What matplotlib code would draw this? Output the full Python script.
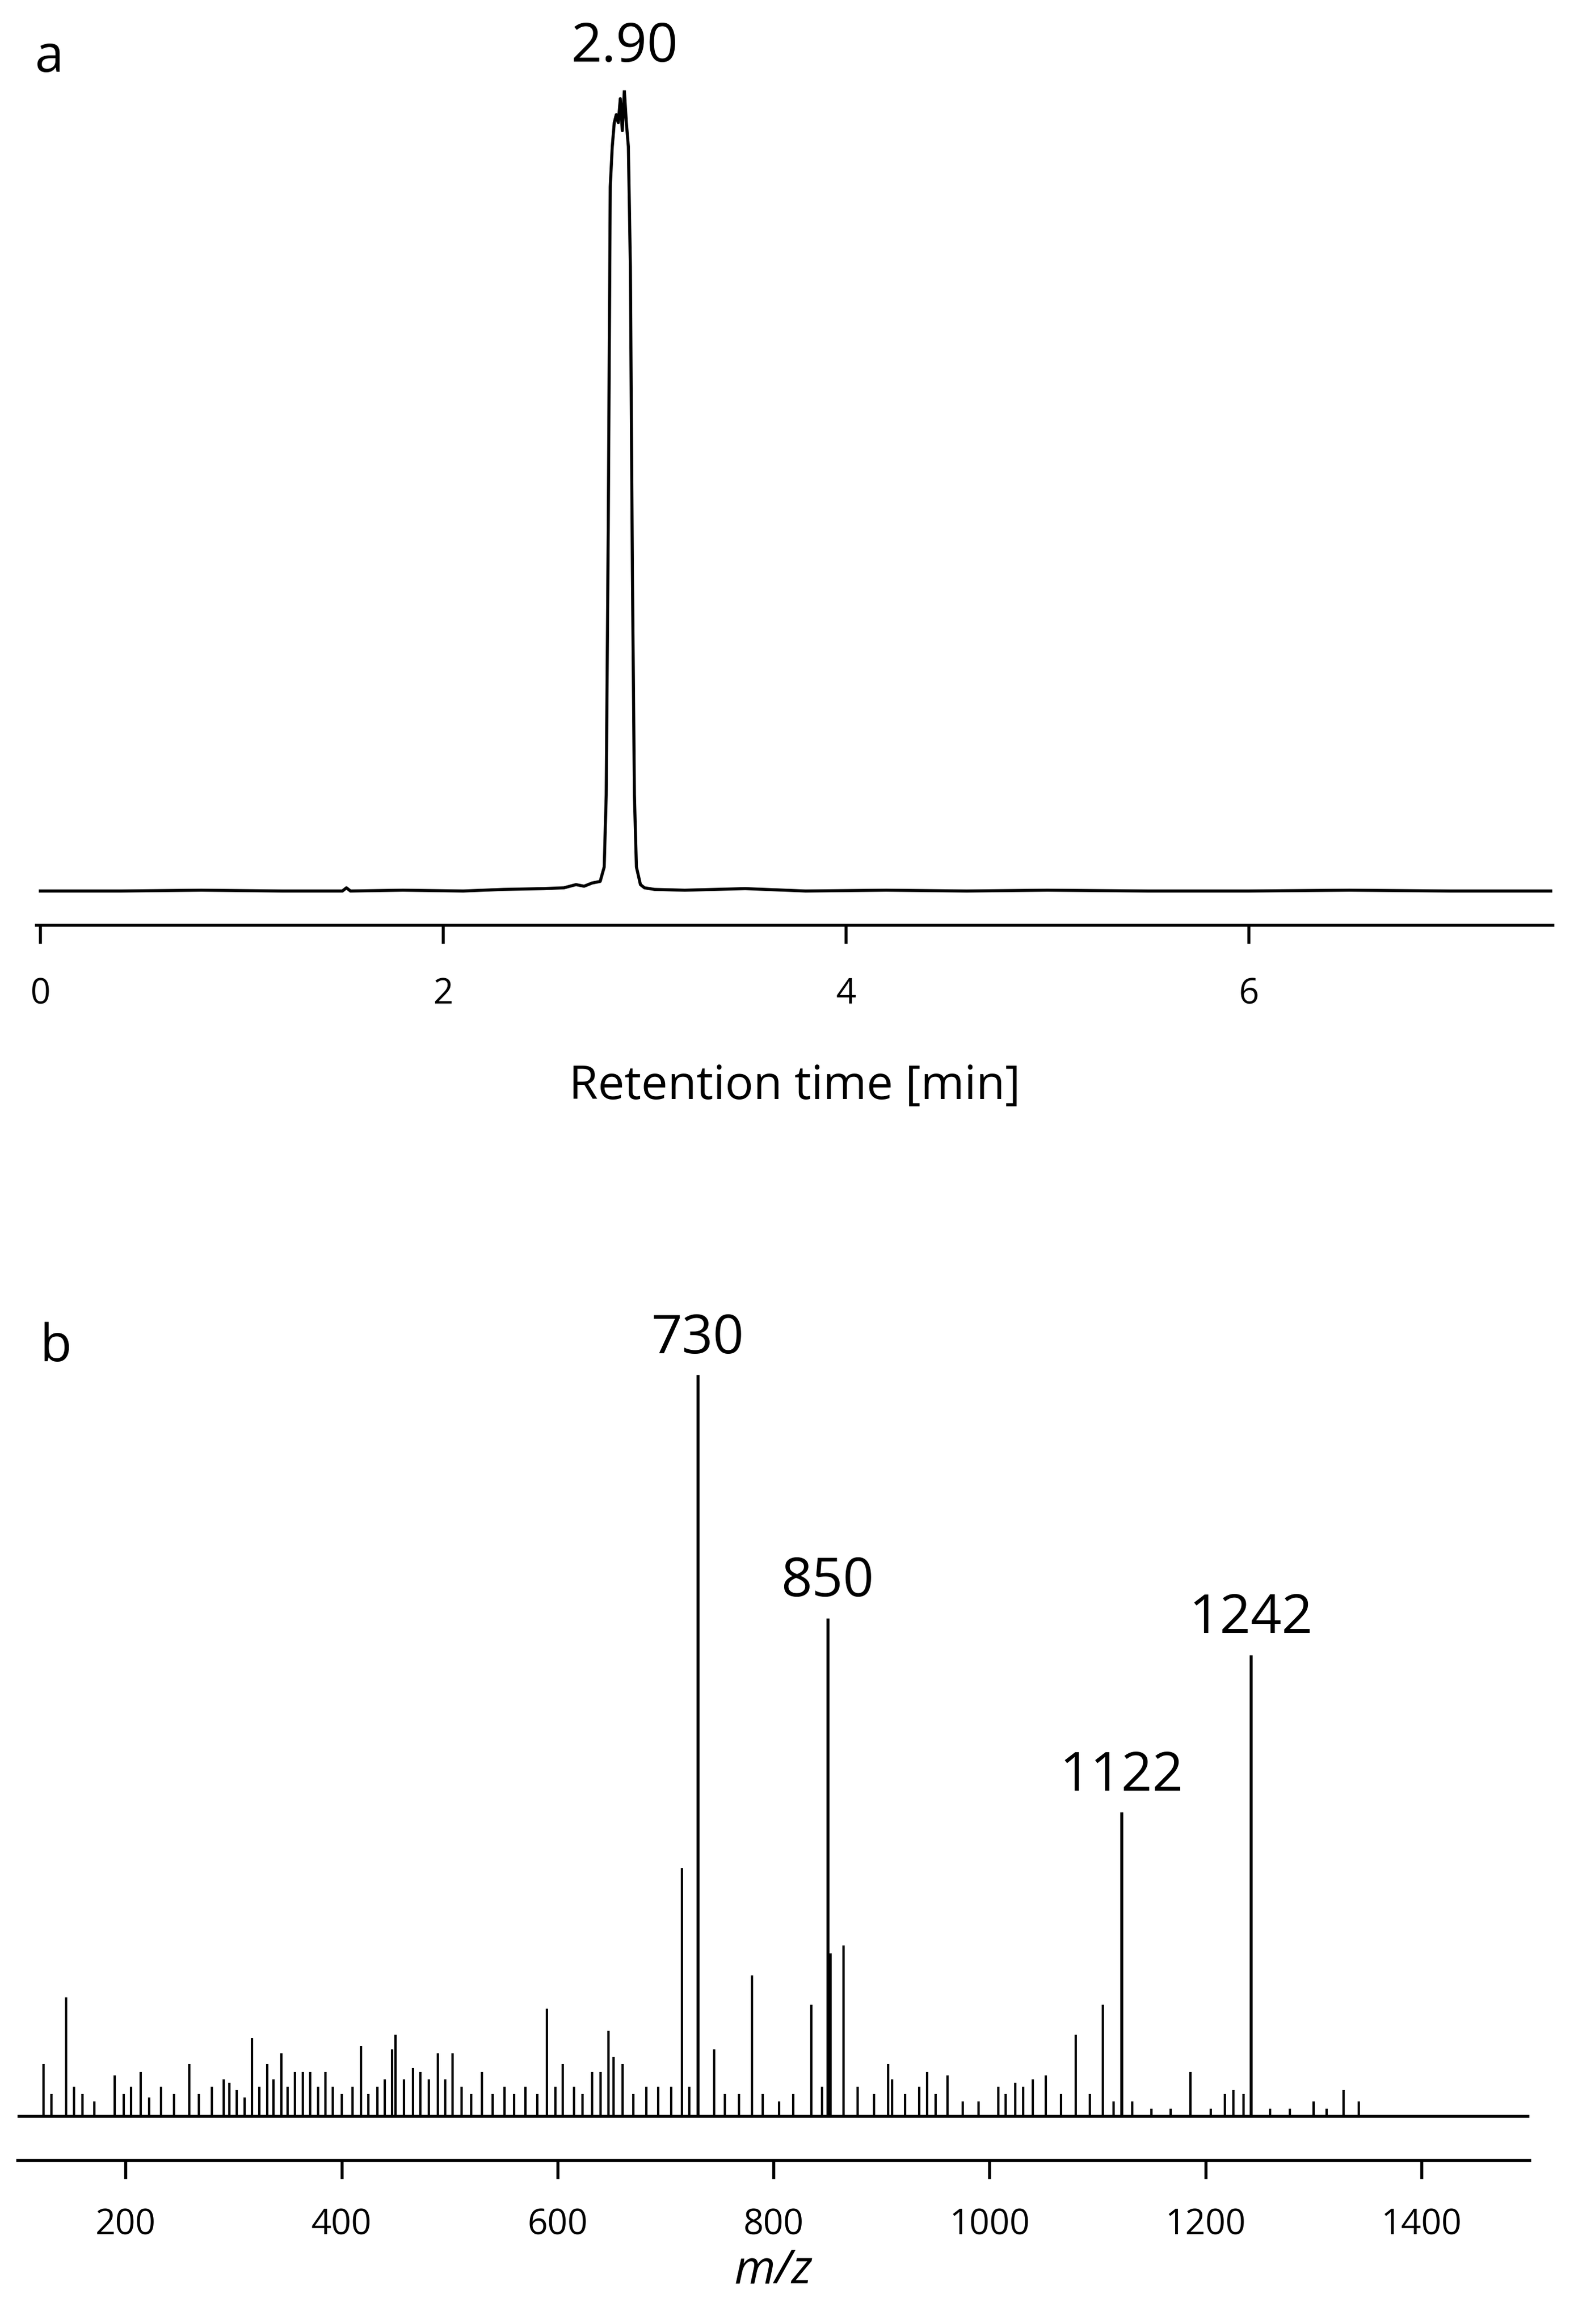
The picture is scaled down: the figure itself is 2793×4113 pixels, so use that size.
import matplotlib.pyplot as plt
import numpy as np

plt.rcParams['font.family'] = ['Open Sans', 'DejaVu Sans']

# chromatogram (retention time [min], relative intensity)
rt = [0.0, 0.4, 0.8, 1.2, 1.5, 1.52, 1.54, 1.8, 2.1, 2.3, 2.5, 2.6, 2.66, 2.70, 2.74,
      2.78, 2.80, 2.81, 2.82, 2.83, 2.84, 2.85, 2.86, 2.87, 2.88, 2.89, 2.90, 2.91,
      2.92, 2.93, 2.94, 2.95, 2.96, 2.98, 3.00, 3.05, 3.2, 3.5, 3.8, 4.2, 4.6, 5.0,
      5.5, 6.0, 6.5, 7.0, 7.5]
inten = [0.0, 0.0, 0.001, 0.0, 0.0, 0.004, 0.0, 0.001, 0.0, 0.002, 0.003, 0.004, 0.008,
         0.006, 0.010, 0.012, 0.03, 0.12, 0.45, 0.88, 0.93, 0.96, 0.97, 0.96, 0.99,
         0.95, 1.0, 0.96, 0.93, 0.78, 0.40, 0.12, 0.03, 0.008, 0.004, 0.002, 0.001,
         0.003, 0.0, 0.001, 0.0, 0.001, 0.0, 0.0, 0.001, 0.0, 0.0]

# mass spectrum: labelled peaks and the rest
mz_main = [730, 850, 1122, 1242]
h_main = [1.0, 0.672, 0.41, 0.622]
mz_minor = [124, 131, 145, 152, 160, 171, 190, 198, 205, 214, 222, 233, 245, 259, 268,
            280, 291, 296, 303, 310, 317, 324, 331, 337, 344, 350, 357, 364, 371, 378,
            385, 392, 400, 410, 418, 425, 433, 440, 447, 450, 458, 466, 473, 481, 489,
            496, 503, 511, 520, 530, 540, 551, 560, 570, 581, 590, 598, 605, 615, 623,
            632, 640, 647, 652, 660, 670, 682, 693, 705, 715, 722, 745, 755, 768, 780,
            790, 805, 818, 835, 845, 853, 865, 878, 893, 906, 910, 922, 935, 942, 950,
            961, 975, 990, 1008, 1015, 1024, 1031, 1040, 1052, 1066, 1080, 1093, 1105,
            1115, 1132, 1150, 1168, 1186, 1205, 1218, 1226, 1235, 1260, 1278, 1300,
            1312, 1328, 1342]
h_minor = [0.07, 0.03, 0.16, 0.04, 0.03, 0.02, 0.055, 0.03, 0.04, 0.06, 0.025, 0.04,
           0.03, 0.07, 0.03, 0.04, 0.05, 0.045, 0.035, 0.025, 0.105, 0.04, 0.07, 0.05,
           0.085, 0.04, 0.06, 0.06, 0.06, 0.04, 0.06, 0.04, 0.03, 0.04, 0.095, 0.03,
           0.04, 0.05, 0.09, 0.11, 0.05, 0.065, 0.06, 0.05, 0.085, 0.05, 0.085, 0.04,
           0.03, 0.06, 0.03, 0.04, 0.03, 0.04, 0.03, 0.145, 0.04, 0.07, 0.04, 0.03,
           0.06, 0.06, 0.115, 0.08, 0.07, 0.03, 0.04, 0.04, 0.04, 0.335, 0.04, 0.09,
           0.03, 0.03, 0.19, 0.03, 0.02, 0.03, 0.15, 0.04, 0.22, 0.23, 0.04, 0.03,
           0.07, 0.05, 0.03, 0.04, 0.06, 0.03, 0.055, 0.02, 0.02, 0.04, 0.03, 0.045,
           0.04, 0.05, 0.055, 0.03, 0.11, 0.03, 0.15, 0.02, 0.02, 0.01, 0.01, 0.06,
           0.01, 0.03, 0.035, 0.03, 0.01, 0.01, 0.02, 0.01, 0.035, 0.02]

fig = plt.figure(figsize=(2793 / 300, 4113 / 300), dpi=300)

# panel a
ax1 = fig.add_axes([0.023, 0.602, 0.961, 0.359])
ax1.plot(rt, inten, color='black', lw=1.3)
ax1.set_xlim(-0.02, 7.51)
ax1.set_ylim(-0.0424, 1.0)
for s in ['left', 'top', 'right']:
    ax1.spines[s].set_visible(False)
ax1.spines['bottom'].set_linewidth(1.3)
ax1.set_yticks([])
ax1.set_xticks([0, 2, 4, 6])
ax1.tick_params(axis='x', labelsize=15, length=8, width=1.3, pad=14)
ax1.set_xlabel('Retention time [min]', fontsize=20, labelpad=22)
ax1.text(2.90, 1.02, '2.90', ha='center', va='bottom', fontsize=23)
fig.text(0.022, 0.975, 'a', fontsize=22, va='center')

# panel b
ax2 = fig.add_axes([0.0112, 0.0704, 0.958, 0.338])
ax2.vlines(mz_minor, 0, h_minor, color='black', lw=1.0)
ax2.vlines(mz_main, 0, h_main, color='black', lw=1.3)
ax2.axhline(0, xmin=0, xmax=(1500 - 100) / 1400, color='black', lw=1.3)
ax2.set_xlim(100, 1500)
ax2.set_ylim(-0.0596, 1.0)
for s in ['left', 'top', 'right']:
    ax2.spines[s].set_visible(False)
ax2.spines['bottom'].set_linewidth(1.3)
ax2.set_yticks([])
ax2.set_xticks(range(200, 1401, 200))
ax2.tick_params(axis='x', labelsize=15, length=8, width=1.3, pad=12)
ax2.set_xlabel('m/z', fontsize=20, style='italic', labelpad=2)
for m, h in zip(mz_main, h_main):
    ax2.text(m, h + 0.012, str(m), ha='center', va='bottom', fontsize=23)
fig.text(0.025, 0.42, 'b', fontsize=22, va='center')

fig.savefig('out.png', dpi=300)
